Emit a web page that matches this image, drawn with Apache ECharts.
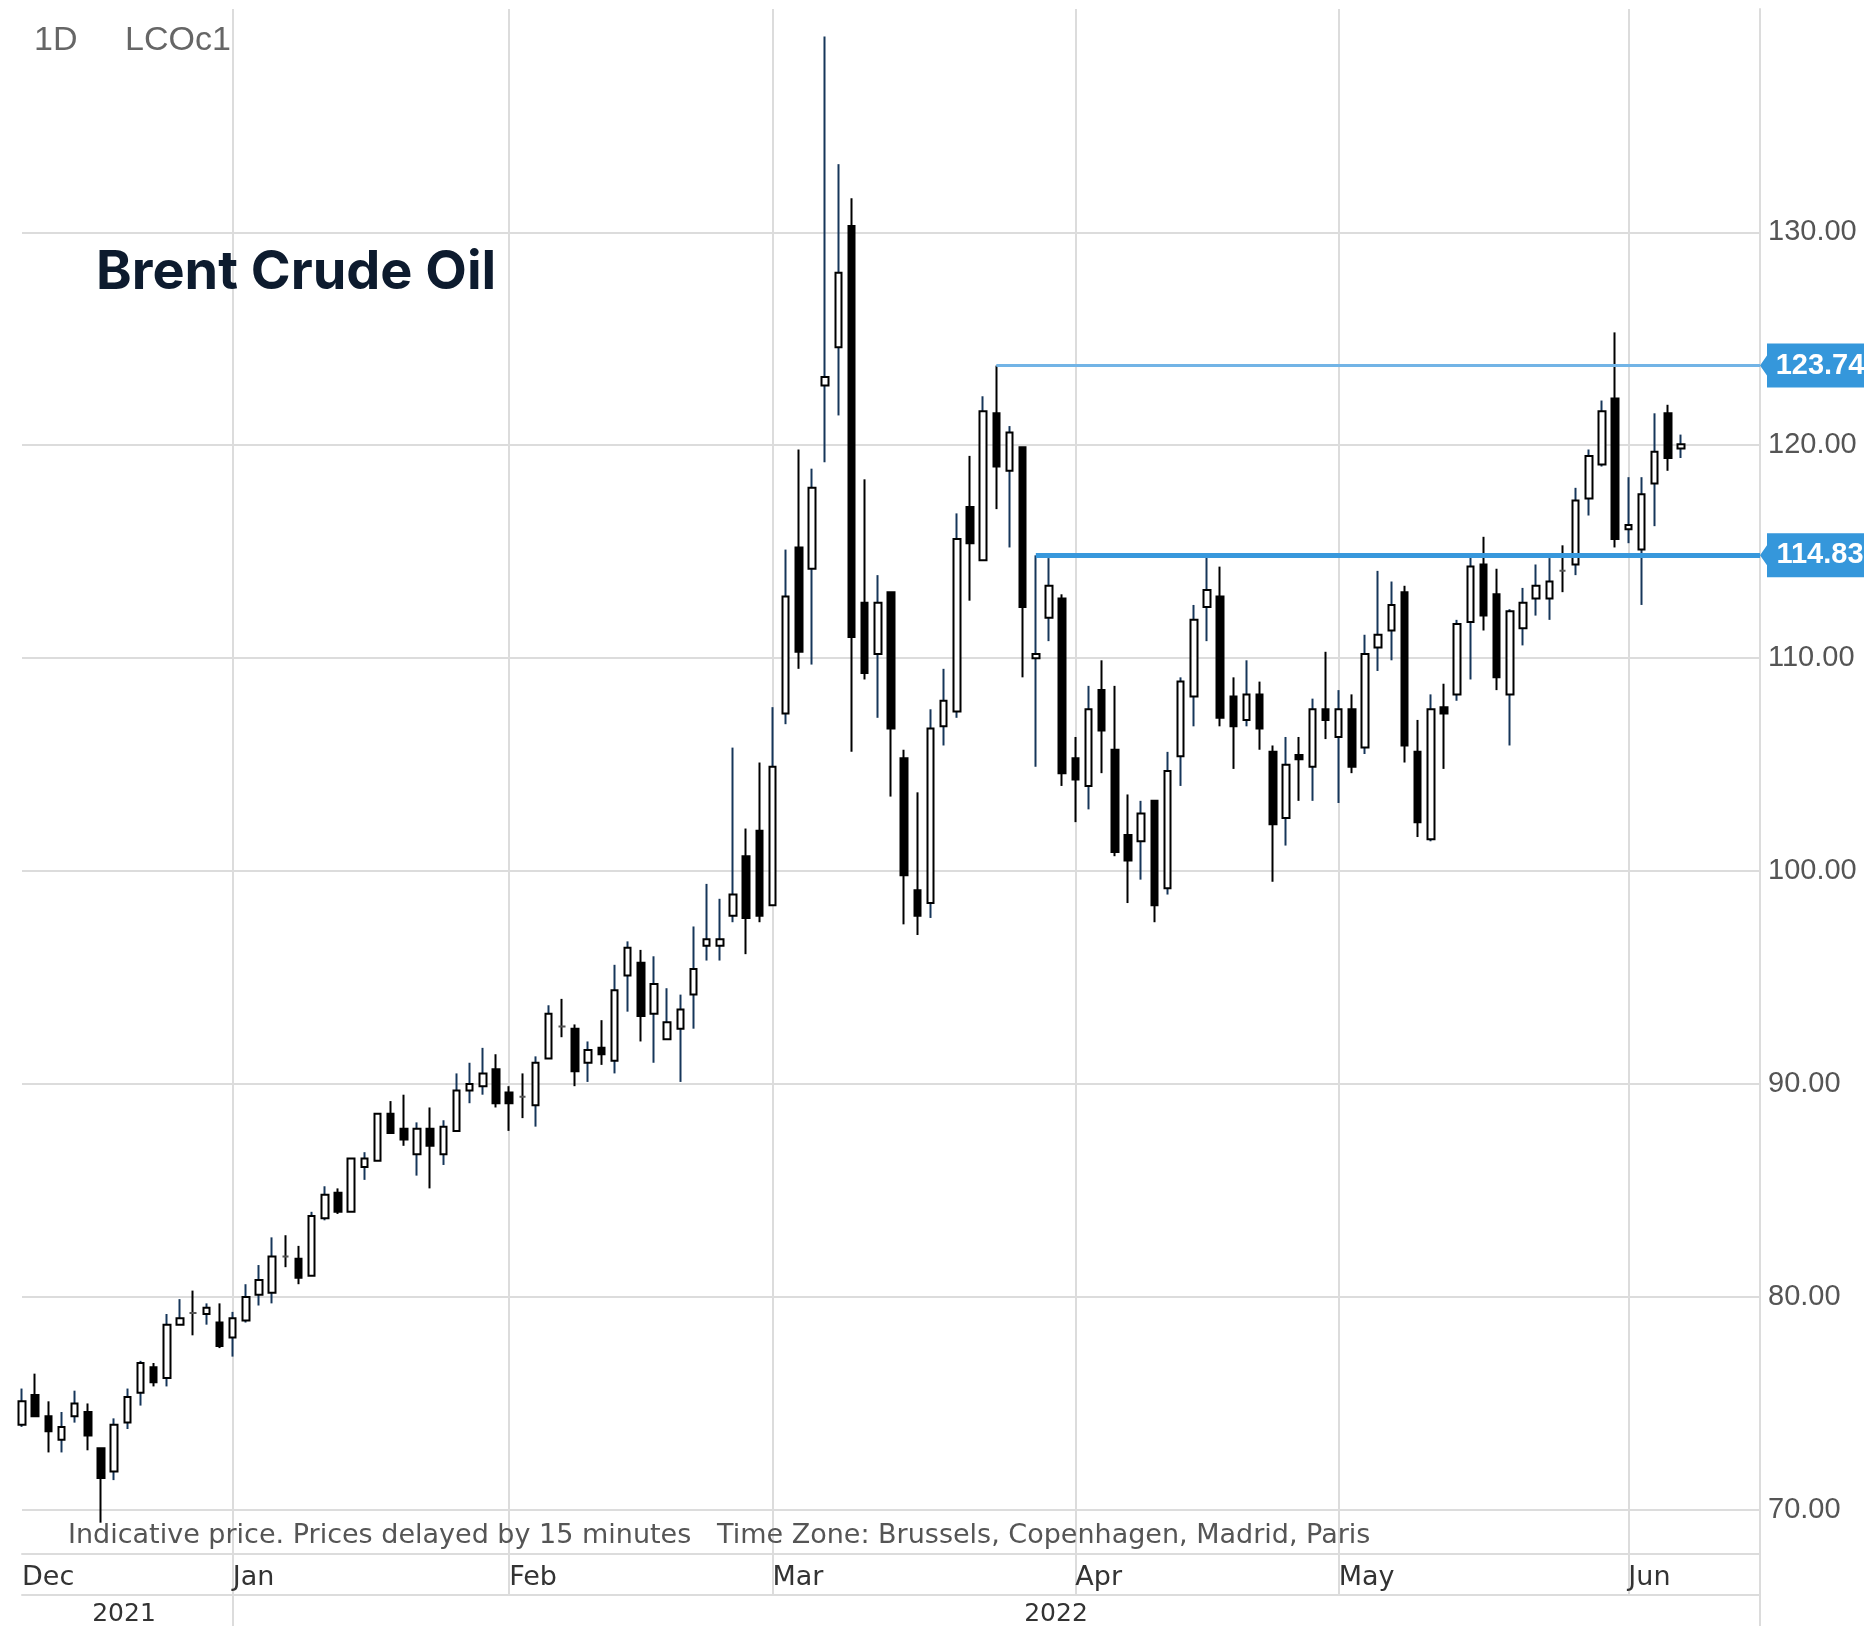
<!DOCTYPE html>
<html>
<head>
<meta charset="utf-8">
<title>Brent Crude Oil</title>
<script src="https://cdn.jsdelivr.net/npm/echarts@6/dist/echarts.min.js"></script>
<style>
  html, body { margin: 0; padding: 0; background: #fff; }
  #main { width: 1864px; height: 1626px; }
</style>
</head>
<body>
<div id="main"></div>
<script>
// trading days of each month (day of month)
var dec21 = [10,13,14,15,16,17,20,21,22,23,24,27,28,29,30,31];
var jan22 = [3,4,5,6,7,10,11,12,13,14,17,18,19,20,21,24,25,26,27,28,31];
var feb22 = [1,2,3,4,7,8,9,10,11,14,15,16,17,18,21,22,23,24,25,28];
var mar22 = [1,2,3,4,7,8,9,10,11,14,15,16,17,18,21,22,23,24,25,28,29,30,31];
var apr22 = [1,4,5,6,7,8,11,12,13,14,18,19,20,21,22,25,26,27,28,29];
var may22 = [2,3,4,5,6,9,10,11,12,13,16,17,18,19,20,23,24,25,26,27,30,31];
var jun22 = [1,2,3,6,7,8,9,10,13,14,15]; // last 6 days = empty space at the right

var monthNames = ['Jan','Feb','Mar','Apr','May','Jun','Jul','Aug','Sep','Oct','Nov','Dec'];

// daily OHLC, LCOc1
var openP = [
  74.0, 75.4, 74.4, 73.3, 74.4, 74.6, 72.9, 71.8, 74.1, 75.5,
  76.7, 76.2, 78.7, 79.25, 79.2, 78.8, 78.1, 78.9, 80.1, 80.2,
  81.9, 81.8, 81.0, 83.7, 84.9, 84.0, 86.1, 86.4, 88.6, 87.9,
  86.7, 87.9, 86.7, 87.8, 89.7, 89.9, 90.7, 89.6, 89.4, 89.0,
  91.2, 92.7, 92.6, 91.0, 91.7, 91.1, 95.1, 95.7, 93.3, 92.1,
  92.6, 94.2, 96.5, 96.5, 97.9, 100.7, 101.9, 98.4, 107.4, 115.2,
  114.2, 122.8, 124.6, 130.3, 112.6, 110.2, 113.1, 105.3, 99.1, 98.5,
  106.8, 107.5, 117.1, 114.6, 121.5, 118.8, 119.9, 110.0, 111.9, 112.8,
  105.3, 104.0, 108.5, 105.7, 101.7, 101.4, 103.3, 99.2, 105.4, 108.2,
  112.4, 112.9, 108.2, 107.1, 108.3, 105.6, 102.5, 105.45, 104.9, 107.6,
  106.3, 107.6, 105.8, 110.5, 111.3, 113.1, 105.6, 101.5, 107.7, 108.3,
  111.7, 114.4, 113.0, 108.3, 111.4, 112.8, 112.8, 114.1, 114.4, 117.5,
  119.1, 122.2, 116.05, 115.1, 118.2, 121.5, 119.85
];
var closeP = [
  75.1, 74.4, 73.7, 73.9, 75.0, 73.5, 71.5, 74.0, 75.3, 76.9,
  76.0, 78.7, 79.0, 79.25, 79.5, 77.7, 79.0, 80.0, 80.8, 81.9,
  81.9, 80.9, 83.8, 84.8, 84.0, 86.5, 86.5, 88.6, 87.7, 87.4,
  87.9, 87.1, 88.0, 89.7, 90.0, 90.5, 89.1, 89.1, 89.4, 91.0,
  93.3, 92.7, 90.6, 91.6, 91.4, 94.4, 96.4, 93.2, 94.7, 92.9,
  93.5, 95.4, 96.8, 96.8, 98.9, 97.8, 97.9, 104.9, 112.9, 110.3,
  118.0, 123.2, 128.1, 111.0, 109.3, 112.6, 106.7, 99.8, 97.9, 106.7,
  108.0, 115.6, 115.4, 121.6, 119.0, 120.6, 112.4, 110.2, 113.4, 104.6,
  104.3, 107.6, 106.6, 100.9, 100.5, 102.7, 98.4, 104.7, 108.9, 111.8,
  113.2, 107.2, 106.8, 108.3, 106.7, 102.2, 105.0, 105.25, 107.6, 107.1,
  107.6, 104.9, 110.2, 111.1, 112.5, 105.9, 102.3, 107.6, 107.4, 111.6,
  114.3, 112.0, 109.1, 112.2, 112.6, 113.4, 113.6, 114.1, 117.4, 119.5,
  121.6, 115.6, 116.25, 117.7, 119.7, 119.4, 120.05
];
var lowP = [
  73.9, 74.4, 72.7, 72.7, 74.1, 72.8, 69.4, 71.4, 73.8, 74.9,
  75.8, 75.8, 78.7, 78.2, 78.7, 77.6, 77.2, 78.8, 79.6, 79.7,
  81.4, 80.6, 81.0, 83.6, 83.9, 84.0, 85.5, 86.4, 87.7, 87.1,
  85.7, 85.1, 86.2, 87.8, 89.1, 89.5, 88.9, 87.8, 88.4, 88.0,
  91.2, 92.2, 89.9, 90.1, 90.9, 90.5, 93.4, 92.0, 91.0, 92.1,
  90.1, 92.6, 95.8, 95.8, 97.6, 96.1, 97.6, 98.4, 106.9, 109.5,
  109.7, 119.2, 121.4, 105.6, 109.0, 107.2, 103.5, 97.5, 97.0, 97.8,
  105.9, 107.2, 112.7, 114.6, 117.0, 115.2, 109.1, 104.9, 110.8, 104.0,
  102.3, 102.9, 104.6, 100.7, 98.5, 99.6, 97.6, 98.9, 104.0, 106.8,
  110.8, 106.8, 104.8, 106.8, 105.7, 99.5, 101.2, 103.3, 103.3, 106.2,
  103.2, 104.6, 105.5, 109.4, 109.9, 105.1, 101.6, 101.4, 104.8, 108.0,
  109.0, 111.3, 108.5, 105.9, 110.6, 112.0, 111.8, 113.1, 113.9, 116.7,
  119.0, 115.2, 115.4, 112.5, 116.2, 118.8, 119.4
];
var highP = [
  75.7, 76.4, 75.1, 74.6, 75.6, 75.0, 72.9, 74.3, 75.7, 77.0,
  76.9, 79.2, 79.9, 80.3, 79.7, 79.7, 79.3, 80.6, 81.5, 82.8,
  82.9, 82.4, 84.0, 85.2, 85.1, 86.5, 86.8, 88.6, 89.2, 89.5,
  88.2, 88.9, 88.3, 90.5, 91.0, 91.7, 91.4, 89.9, 90.5, 91.3,
  93.7, 94.0, 92.8, 92.0, 93.0, 95.6, 96.7, 96.3, 96.0, 94.5,
  94.2, 97.4, 99.4, 98.7, 105.8, 102.0, 105.1, 107.7, 115.1, 119.8,
  118.9, 139.2, 133.2, 131.6, 118.4, 113.9, 113.1, 105.7, 103.7, 107.6,
  109.5, 116.8, 119.5, 122.3, 123.74, 120.9, 119.9, 114.83, 114.7, 113.0,
  106.3, 108.7, 109.9, 108.7, 103.6, 103.3, 103.3, 105.6, 109.1, 112.5,
  114.9, 114.3, 109.1, 109.9, 108.9, 105.9, 106.3, 106.3, 108.1, 110.3,
  108.5, 108.3, 111.1, 114.1, 113.6, 113.4, 107.1, 108.3, 108.8, 111.8,
  114.9, 115.7, 114.2, 112.3, 113.3, 114.4, 114.7, 115.3, 118.0, 119.8,
  122.1, 125.3, 118.5, 118.5, 121.5, 121.9, 120.5
];

// horizontal levels drawn on the chart
var resistance = 123.74;
var support = 114.83;

// build category list
var months = [['2021-12', dec21], ['2022-01', jan22], ['2022-02', feb22], ['2022-03', mar22],
              ['2022-04', apr22], ['2022-05', may22], ['2022-06', jun22]];
var dates = [];
var monthStart = {};
months.forEach(function (m) {
  m[1].forEach(function (d, i) {
    if (i === 0) monthStart[dates.length] = true;
    dates.push(m[0] + '-' + (d < 10 ? '0' + d : d));
  });
});
var yearStart = dates.indexOf('2022-01-03');
var lastDate = dates[dates.length - 1];

var ohlc = openP.map(function (o, i) { return [o, closeP[i], lowP[i], highP[i]]; });
var bodies = openP.map(function (o, i) {
  return [o, closeP[i], Math.min(o, closeP[i]), Math.max(o, closeP[i])];
});

var resStart = dates[highP.indexOf(resistance)];
var supStart = dates[highP.indexOf(support)];

var gridColor = '#dcdcdc';
var chart = echarts.init(document.getElementById('main'), null, { renderer: 'canvas' });

chart.setOption({
  animation: false,
  backgroundColor: '#fff',
  grid: [
    { left: 22, right: 104, top: 21.5, bottom: 72 },   // price area
    { left: 22, right: 104, top: 9, bottom: 31 },      // month lines + band line
    { left: 22, right: 104, top: 9, bottom: 0 }        // year line + right edge
  ],
  xAxis: [
    {
      type: 'category', gridIndex: 0, data: dates, boundaryGap: false,
      axisLine: { show: true, lineStyle: { color: gridColor, width: 2 } },
      axisTick: { show: false },
      axisLabel: {
        interval: function (i) { return !!monthStart[i]; },
        formatter: function (v) { return monthNames[parseInt(v.slice(5, 7), 10) - 1]; },
        align: 'left', margin: 10, color: '#333',
        fontFamily: 'DejaVu Sans', fontSize: 27
      },
      splitLine: { show: false }
    },
    {
      type: 'category', gridIndex: 1, data: dates, boundaryGap: false,
      axisLine: { show: true, lineStyle: { color: gridColor, width: 2 } },
      axisTick: { show: false }, axisLabel: { show: false },
      splitLine: {
        show: true,
        interval: function (i) { return i > 0 && !!monthStart[i]; },
        lineStyle: { color: gridColor, width: 2 }
      }
    },
    {
      type: 'category', gridIndex: 2, data: dates, boundaryGap: false,
      axisLine: { show: false }, axisTick: { show: false }, axisLabel: { show: false },
      splitLine: {
        show: true,
        interval: function (i) { return i === yearStart; },
        lineStyle: { color: gridColor, width: 2 }
      }
    }
  ],
  yAxis: [
    {
      type: 'value', gridIndex: 0, position: 'right',
      min: 67.93, max: 139.9,
      axisLine: { show: false }, axisTick: { show: false },
      axisLabel: {
        margin: 8, color: '#555', fontFamily: 'Liberation Sans', fontSize: 29,
        formatter: function (v) { return v % 10 === 0 ? v.toFixed(2) : ''; }
      },
      splitLine: { show: true, showMinLine: false, showMaxLine: false, lineStyle: { color: gridColor, width: 2 } }
    },
    {
      type: 'value', gridIndex: 1, show: false
    },
    {
      type: 'value', gridIndex: 2, position: 'right',
      axisLine: { show: true, lineStyle: { color: gridColor, width: 2 } },
      axisTick: { show: false }, axisLabel: { show: false }, splitLine: { show: false }
    }
  ],
  series: [
    {
      // wicks
      name: 'wick', type: 'candlestick', xAxisIndex: 0, yAxisIndex: 0,
      data: ohlc, barWidth: 1, clip: false, z: 2,
      itemStyle: {
        color: '#16365a', color0: '#000', borderColor: '#16365a', borderColor0: '#000',
        borderColorDoji: '#000', borderWidth: 2
      },
      markLine: {
        silent: true, animation: false, symbol: ['none', 'none'], label: { show: false },
        data: [
          [{ coord: [resStart, resistance], lineStyle: { color: '#72b4e6', width: 3, type: 'solid' } },
           { coord: [lastDate, resistance] }],
          [{ coord: [supStart, support], lineStyle: { color: '#3898dc', width: 5, type: 'solid' } },
           { coord: [lastDate, support] }]
        ]
      },
      markPoint: {
        silent: true, animation: false,
        symbol: 'path://M0,22L7,12L7,0L108,0L108,44L7,44L7,32Z',
        symbolSize: [108, 44], symbolKeepAspect: false, symbolOffset: [54, 0],
        itemStyle: { color: '#3597db' },
        label: {
          show: true, color: '#fff', fontFamily: 'Liberation Sans', fontSize: 29, fontWeight: 'bold',
          offset: [6, 0],
          formatter: function (p) { return p.value.toFixed(2); }
        },
        data: [
          { coord: [lastDate, resistance], value: resistance },
          { coord: [lastDate, support], value: support }
        ]
      }
    },
    {
      // bodies: hollow up, filled down
      name: 'body', type: 'candlestick', xAxisIndex: 0, yAxisIndex: 0,
      data: bodies, barWidth: 7, clip: true, z: 3,
      itemStyle: {
        color: '#fff', color0: '#000', borderColor: '#000', borderColor0: '#000',
        borderColorDoji: '#555', borderWidth: 2
      }
    }
  ],
  graphic: [
    { type: 'text', z: 100, x: 34, y: 41, style: { text: '1D', font: '34px "Liberation Sans"', fill: '#666', verticalAlign: 'middle' } },
    { type: 'text', z: 100, x: 125, y: 41, style: { text: 'LCOc1', font: '34px "Liberation Sans"', fill: '#666', verticalAlign: 'middle' } },
    { type: 'text', z: 100, x: 96, y: 273, style: { text: 'Brent Crude Oil', font: 'bold 54px Inter', fill: '#0d1b2e', verticalAlign: 'middle' } },
    { type: 'text', z: 100, x: 68, y: 1536, style: { text: 'Indicative price. Prices delayed by 15 minutes', font: '27px "DejaVu Sans"', fill: '#555', verticalAlign: 'middle' } },
    { type: 'text', z: 100, x: 717, y: 1536, style: { text: 'Time Zone: Brussels, Copenhagen, Madrid, Paris', font: '27px "DejaVu Sans"', fill: '#555', verticalAlign: 'middle' } },
    { type: 'text', z: 100, x: 124, y: 1614, style: { text: '2021', font: '25px "DejaVu Sans"', fill: '#333', align: 'center', verticalAlign: 'middle' } },
    { type: 'text', z: 100, x: 1056, y: 1614, style: { text: '2022', font: '25px "DejaVu Sans"', fill: '#333', align: 'center', verticalAlign: 'middle' } }
  ]
});
</script>
</body>
</html>
